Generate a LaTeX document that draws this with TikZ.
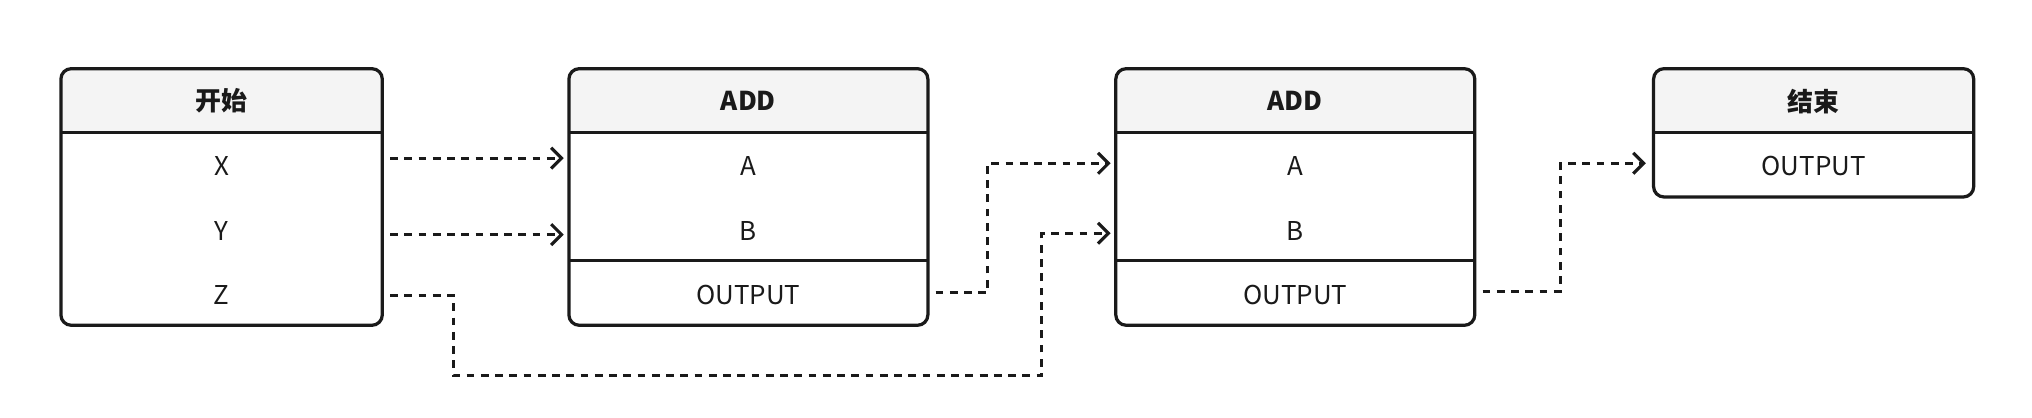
\documentclass[tikz,border=0pt]{standalone}
\usepackage{fontspec}
\setmainfont{Noto Sans CJK SC}
\usetikzlibrary{arrows.meta}
\definecolor{hdr}{HTML}{F4F4F4}
\definecolor{ink}{HTML}{1A1A1A}
\begin{document}
\begin{tikzpicture}[x=0.5pt,y=-0.5pt,
  boxframe/.style={draw=ink,line width=1.25pt,rounded corners=4pt},
  hdrtext/.style={font=\bfseries\fontsize{10}{12}\selectfont,text=ink},
  rowtext/.style={font=\fontsize{10}{12}\selectfont,text=ink},
  conn/.style={draw=ink,line width=1.2pt,dash pattern=on 3pt off 2.5pt,-{Straight Barb[length=4pt,width=8pt,line width=1.2pt]}}]
\useasboundingbox (0,0) rectangle (1568,322);
% box 1
\begin{scope}
\clip[rounded corners=4pt] (47,53) rectangle (295,251);
\fill[hdr] (47,53) rectangle (295,102);
\end{scope}
\draw[boxframe] (47,53) rectangle (295,251);
\draw[ink,line width=1.25pt] (47,102) -- (295,102);
\node[hdrtext] (h1) at (171,78) {开始};
\node[rowtext] (x) at (171,128) {X};
\node[rowtext] (y) at (171,178) {Y};
\node[rowtext] (z) at (171,228) {Z};
% box 2 and 3
\foreach \l/\xa/\xb in {2/439/716,3/861/1138}{
\begin{scope}
\clip[rounded corners=4pt] (\xa,53) rectangle (\xb,251);
\fill[hdr] (\xa,53) rectangle (\xb,102);
\end{scope}
\draw[boxframe] (\xa,53) rectangle (\xb,251);
\draw[ink,line width=1.25pt] (\xa,102) -- (\xb,102);
\draw[ink,line width=1.25pt] (\xa,201) -- (\xb,201);
}
\node[hdrtext] (h2) at (577.5,78) {ADD};
\node[rowtext] (a2) at (577.5,128) {A};
\node[rowtext] (b2) at (577.5,178) {B};
\node[rowtext] (o2) at (577.5,228) {OUTPUT};
\node[hdrtext] (h3) at (999.5,78) {ADD};
\node[rowtext] (a3) at (999.5,128) {A};
\node[rowtext] (b3) at (999.5,178) {B};
\node[rowtext] (o3) at (999.5,228) {OUTPUT};
% box 4
\begin{scope}
\clip[rounded corners=4pt] (1276,53) rectangle (1523,152);
\fill[hdr] (1276,53) rectangle (1523,102);
\end{scope}
\draw[boxframe] (1276,53) rectangle (1523,152);
\draw[ink,line width=1.25pt] (1276,102) -- (1523,102);
\node[hdrtext] (h4) at (1399.5,78) {结束};
\node[rowtext] (o4) at (1399.5,128) {OUTPUT};
% connectors
\coordinate (xs) at (301,122); \coordinate (xe) at (435,122);
\coordinate (ys) at (301,181); \coordinate (ye) at (435,181);
\coordinate (zs) at (301,228); \coordinate (ze) at (857,180);
\coordinate (o2s) at (722,226); \coordinate (a3e) at (857,126);
\coordinate (o3s) at (1144,225); \coordinate (o4e) at (1270,126);
\draw[conn] (xs) -- (xe);
\draw[conn] (ys) -- (ye);
\draw[conn] (zs) -- (350,228) -- (350,290) -- (804,290) -- (804,180) -- (ze);
\draw[conn] (o2s) -- (762,226) -- (762,126) -- (a3e);
\draw[conn] (o3s) -- (1204,225) -- (1204,126) -- (o4e);
\end{tikzpicture}
\end{document}
